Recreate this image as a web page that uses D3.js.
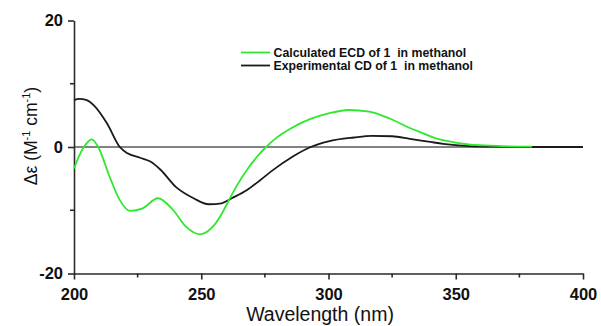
<!DOCTYPE html>
<html>
<head>
<meta charset="utf-8">
<script src="https://cdn.jsdelivr.net/npm/d3@7"></script>
<style>
  body { margin: 0; background: #fff; }
  svg { display: block; font-family: "Liberation Sans", Arial, sans-serif; }
</style>
</head>
<body>
<svg id="chart" width="601" height="326"></svg>
<script>
// experimental CD (black)
const expWavelength = [200, 202, 205, 208, 213, 218, 221, 226, 230, 234, 240, 247, 253, 258, 262, 268, 273, 278, 286, 293, 300, 310, 317, 325, 332, 340, 345, 355, 365, 380, 400];
const expValues = [7.4, 7.6, 7.4, 6.5, 3.7, 0, -1.0, -1.7, -2.3, -3.6, -6.3, -8.1, -9.05, -8.9, -8.1, -6.8, -5.3, -3.7, -1.5, 0, 0.9, 1.5, 1.75, 1.7, 1.3, 0.8, 0.5, 0.15, 0.05, 0, 0];

// calculated ECD (green)
const calcWavelength = [200, 202.5, 205, 207, 209.5, 214, 218, 222, 227, 233, 239, 244, 249.5, 255, 258, 261, 264, 268, 272, 275.5, 280, 285, 292.7, 300, 308, 316, 324, 332, 337, 342, 348, 355, 361, 370, 380];
const calcValues = [-3.4, -1.0, 0.6, 1.2, 0, -4.7, -8.4, -10.1, -9.7, -8.1, -10, -12.6, -13.8, -12.4, -10.6, -8.3, -6.1, -3.6, -1.5, 0, 1.6, 2.9, 4.4, 5.3, 5.85, 5.6, 4.5, 3.0, 2.2, 1.4, 0.85, 0.4, 0.25, 0.1, 0.05];

const xMajorTicks = [200, 250, 300, 350, 400];
const xMinorTicks = [225, 275, 325, 375];
const yMajorTicks = [-20, 0, 20];
const yMinorTicks = [-10, 10];

const legendLabels = ['Calculated ECD of 1  in methanol', 'Experimental CD of 1  in methanol'];
const seriesColors = ['#2ee82e', '#1a1a1a'];

const svg = d3.select('#chart');

const x = d3.scaleLinear().domain([200, 400]).range([74, 583]);
const y = d3.scaleLinear().domain([-20, 20]).range([273.5, 20.5]);

// zero line
svg.append('line')
  .attr('x1', x(200)).attr('x2', x(400))
  .attr('y1', y(0)).attr('y2', y(0))
  .style('stroke', '#5a5a5a')
  .style('stroke-width', 1.6);

// x axis
const xAxis = svg.append('g').attr('transform', 'translate(0,' + y(-20) + ')');
xAxis.call(d3.axisBottom(x).tickValues(xMajorTicks).tickFormat(d => String(d)).tickSize(6).tickSizeOuter(0).tickPadding(9));
xAxis.append('g')
  .attr('class', 'minor')
  .selectAll('line')
  .data(xMinorTicks)
  .enter()
  .append('line')
  .attr('x1', d => x(d)).attr('x2', d => x(d))
  .attr('y1', 0).attr('y2', 4);

// y axis
const yAxis = svg.append('g').attr('transform', 'translate(' + x(200) + ',0)');
yAxis.call(d3.axisLeft(y).tickValues(yMajorTicks).tickFormat(d => String(d)).tickSize(6).tickSizeOuter(0).tickPadding(5));
yAxis.append('g')
  .attr('class', 'minor')
  .selectAll('line')
  .data(yMinorTicks)
  .enter()
  .append('line')
  .attr('x1', 0).attr('x2', -4)
  .attr('y1', d => y(d)).attr('y2', d => y(d));

svg.selectAll('.domain, .tick line, .minor line')
  .style('stroke', '#2a2a2a')
  .style('stroke-width', 1.6);

svg.selectAll('.tick text')
  .style('font-family', '"Liberation Sans", Arial, sans-serif')
  .style('font-size', '16.5px')
  .style('font-weight', 'bold')
  .style('fill', '#111');

// curves
const line = d3.line()
  .x(d => x(d[0]))
  .y(d => y(d[1]))
  .curve(d3.curveMonotoneX);

svg.append('path')
  .datum(d3.zip(expWavelength, expValues))
  .attr('d', line)
  .style('fill', 'none')
  .style('stroke', seriesColors[1])
  .style('stroke-width', 1.8);

svg.append('path')
  .datum(d3.zip(calcWavelength, calcValues))
  .attr('d', line)
  .style('fill', 'none')
  .style('stroke', seriesColors[0])
  .style('stroke-width', 1.8);

// legend
const legend = svg.append('g');
legendLabels.forEach((label, i) => {
  const ly = 52.5 + i * 13;
  legend.append('line')
    .attr('x1', 241).attr('x2', 270)
    .attr('y1', ly).attr('y2', ly)
    .style('stroke', seriesColors[i])
    .style('stroke-width', 1.8);
  legend.append('text')
    .attr('x', 273.5)
    .attr('y', ly + 4.5)
    .style('font-size', '12.3px')
    .style('font-weight', 'bold')
    .style('fill', '#111')
    .style('white-space', 'pre')
    .text(label);
});

// axis titles
svg.append('text')
  .attr('x', 320)
  .attr('y', 321)
  .attr('text-anchor', 'middle')
  .style('font-size', '19.5px')
  .style('fill', '#111')
  .text('Wavelength (nm)');

const yTitle = svg.append('text')
  .attr('transform', 'translate(37,136) rotate(-90)')
  .attr('text-anchor', 'middle')
  .style('font-size', '17.5px')
  .style('fill', '#111');
yTitle.append('tspan').text('\u0394\u03b5 (M');
yTitle.append('tspan').attr('dy', -7).style('font-size', '11px').text('-1');
yTitle.append('tspan').attr('dy', 7).text(' cm');
yTitle.append('tspan').attr('dy', -7).style('font-size', '11px').text('-1');
yTitle.append('tspan').attr('dy', 7).text(')');
</script>
</body>
</html>
